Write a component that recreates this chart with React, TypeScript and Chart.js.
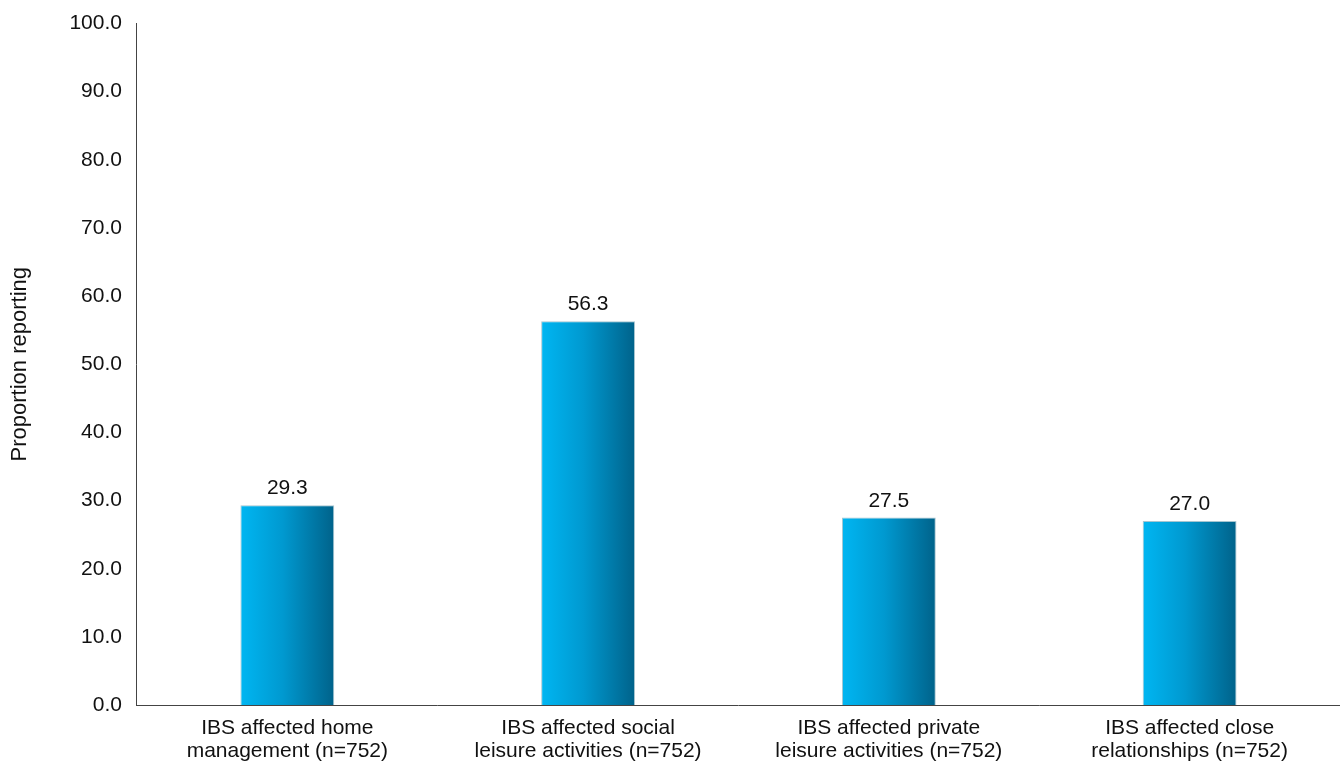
import React, { useEffect, useRef } from "react";
import { Chart, registerables } from "chart.js";

Chart.register(...registerables);

const categories: string[][] = [
  ["IBS affected home", "management (n=752)"],
  ["IBS affected social", "leisure activities (n=752)"],
  ["IBS affected private", "leisure activities (n=752)"],
  ["IBS affected close", "relationships (n=752)"],
];
const values: number[] = [29.3, 56.3, 27.5, 27.0];
const yTitle = "Proportion reporting";

const FONT = "'Liberation Sans', Arial, Helvetica, sans-serif";
const BAR_PCT = 0.312;

const labelPlugin = {
  id: "valueLabels",
  afterDatasetsDraw(chart: any) {
    const ctx = chart.ctx;
    const meta = chart.getDatasetMeta(0);
    ctx.save();
    ctx.font = `21px ${FONT}`;
    ctx.fillStyle = "#111";
    ctx.textAlign = "center";
    ctx.textBaseline = "alphabetic";
    meta.data.forEach((bar: any, i: number) => {
      ctx.fillText(values[i].toFixed(1), bar.x, bar.y - 11);
    });
    ctx.restore();
  },
};

export default function App() {
  const ref = useRef<HTMLCanvasElement>(null);
  useEffect(() => {
    document.body.style.margin = "0";
    const canvas = ref.current!;
    const chart = new Chart(canvas, {
      type: "bar",
      data: {
        labels: categories,
        datasets: [
          {
            data: values,
            backgroundColor: (context: any) => {
              const ch = context.chart;
              const xs = ch.scales?.x;
              if (!xs || context.dataIndex === undefined) return "#0094c8";
              const cx = xs.getPixelForValue(context.dataIndex);
              const w = (xs.width / categories.length) * BAR_PCT;
              if (!isFinite(cx) || !isFinite(w) || w <= 0) return "#0094c8";
              const g = ch.ctx.createLinearGradient(cx - w / 2, 0, cx + w / 2, 0);
              g.addColorStop(0, "#00b6f2");
              g.addColorStop(0.45, "#0099d0");
              g.addColorStop(1, "#00628a");
              return g;
            },
            borderColor: "rgba(0,90,120,0.35)",
            borderWidth: 1,
            categoryPercentage: 1,
            barPercentage: BAR_PCT,
          },
        ],
      },
      options: {
        animation: false,
        responsive: true,
        maintainAspectRatio: false,
        layout: { padding: { top: 0, left: 4, right: 0, bottom: -9 } },
        plugins: { legend: { display: false }, tooltip: { enabled: false } },
        scales: {
          x: {
            grid: { display: false, drawTicks: false },
            border: { display: true, color: "#444", width: 1 },
            ticks: {
              color: "#111",
              font: { family: FONT, size: 21, lineHeight: 1.07 },
              padding: 12,
              maxRotation: 0,
              autoSkip: false,
            },
          },
          y: {
            min: 0,
            max: 100,
            grid: { display: false, drawTicks: false },
            border: { display: true, color: "#444", width: 1 },
            ticks: {
              stepSize: 10,
              color: "#111",
              font: { family: FONT, size: 21, lineHeight: 0.8 },
              padding: 15,
              callback: (v: any) => Number(v).toFixed(1),
            },
            title: {
              display: true,
              text: yTitle,
              color: "#111",
              font: { family: FONT, size: 22 },
              padding: { top: 3, bottom: 21 },
            },
          },
        },
      },
      plugins: [labelPlugin],
    });
    return () => chart.destroy();
  }, []);
  return (
    <div style={{ position: "relative", width: 1340, height: 765 }}>
      <canvas ref={ref} />
    </div>
  );
}
